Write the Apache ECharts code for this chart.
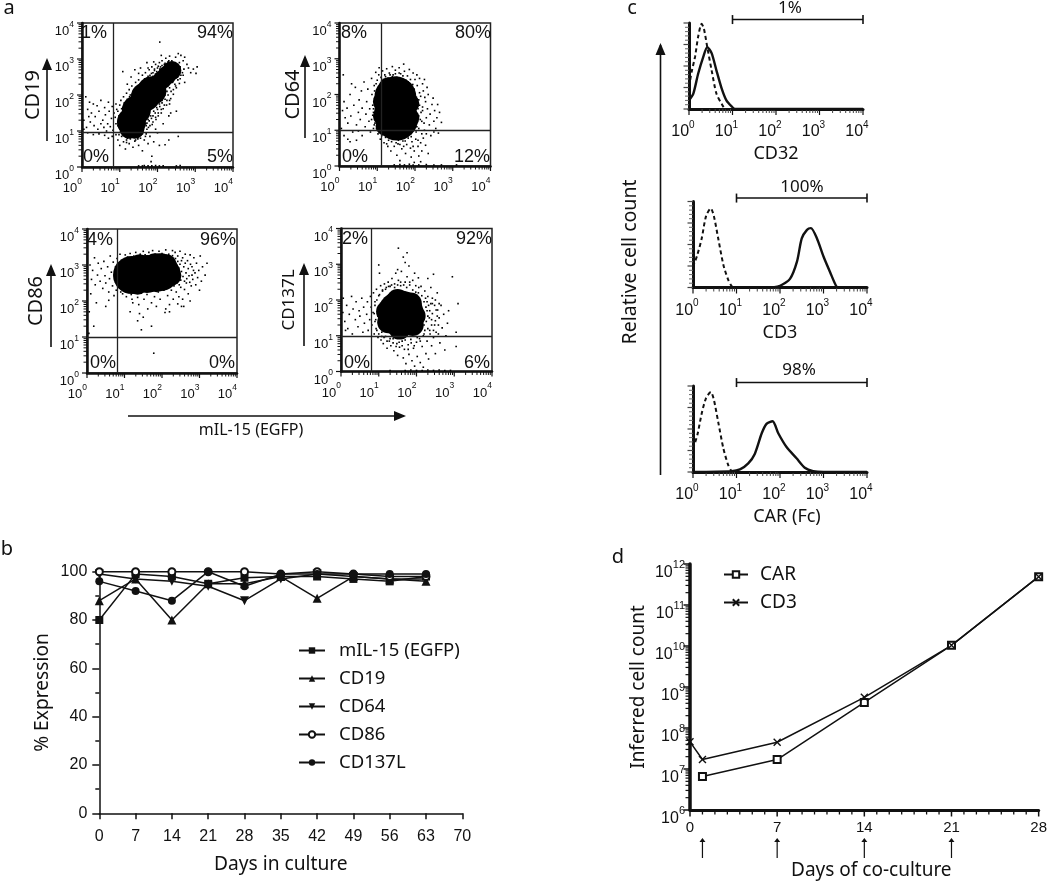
<!DOCTYPE html>
<html><head><meta charset="utf-8">
<style>html,body{margin:0;padding:0;background:#fff}#c{width:1050px;height:881px}</style>
<script src="https://cdn.jsdelivr.net/npm/echarts@6/dist/echarts.min.js"></script></head>
<body><div id="c"></div>
<script>
// ---------- values ----------
// axis tick positions
const logDecades=[1,10,100,1000,10000];
const logMinor=[2,3,4,5,6,7,8,9,20,30,40,50,60,70,80,90,200,300,400,500,600,700,800,900,2000,3000,4000,5000,6000,7000,8000,9000];
const countDecades=[1e6,1e7,1e8,1e9,1e10,1e11,1e12];
const countMinor=[2e6,3e6,4e6,5e6,6e6,7e6,8e6,9e6,2e7,3e7,4e7,5e7,6e7,7e7,8e7,9e7,2e8,3e8,4e8,5e8,6e8,7e8,8e8,9e8,2e9,3e9,4e9,5e9,6e9,7e9,8e9,9e9,2e10,3e10,4e10,5e10,6e10,7e10,8e10,9e10,2e11,3e11,4e11,5e11,6e11,7e11,8e11,9e11];
const coDayMajor=[0,7,14,21,28];
const coDayMinor=[1,2,3,4,5,6,8,9,10,11,12,13,15,16,17,18,19,20,22,23,24,25,26,27];
const histMajor=[0,25,50,75,100];
const histMinor=[5,10,15,20,30,35,40,45,55,60,65,70,80,85,90,95];
// flow panels: log10 readings, flat x,y pairs
const cd19Core=[1.31,1.25,1.44,1.58,1.68,1.95,1.85,2.12];
const cd19Mid=[1.25,1.05,1.4,1.05,1.98,2.28,2.12,2.42,2.25,2.55,2.38,2.68];
const cd19Dots=[.1,1.95,.2,1.8,.15,1.6,.3,1.75,.25,1.5,.4,1.7,.35,1.4,.5,1.85,.45,1.55,.55,1.3,.6,1.65,.62,1.45,.7,1.8,.68,1.2,.72,1.55,.78,1.35,.8,1.68,.85,1.5,.05,1.3,.12,1.1,.22,1.25,.32,1.15,.42,1.05,.5,1.2,.58,1.1,.65,1,.75,1.12,.82,1.02,.9,1.2,.88,1.38,.92,1.6,.15,.95,.3,.9,.45,.92,.6,.88,.7,.8,.8,.85,.9,.9,.05,1.05,.18,1.4,
.95,.75,1,.6,1.05,.85,1.1,.7,1.15,.5,1.2,.8,1.25,.65,1.3,.88,1.35,.55,1.4,.72,1.45,.9,1.5,.6,1.55,.8,1.6,.45,1.65,.75,1.7,.92,1.75,.65,1.8,.85,1.9,.7,2,.95,2.05,.6,2.3,.75,2.55,.85,1.85,.3,1.83,.15,.98,.9,1.08,.92,1.18,.68,1.28,.95,1.38,.82,1.48,.78,1.58,.98,1.68,.85,
.9,1.75,.95,1.55,1,1.72,1.03,1.85,1.05,1.62,1.1,1.95,1.12,1.78,1.18,2.05,1.2,1.88,1.25,2.15,1.28,2,1.32,2.25,1.36,2.1,1.42,2.35,1.46,2.2,1.5,2.42,1.55,2.3,1.6,2.55,1.62,2.38,1.68,2.62,1.72,2.45,1.78,2.7,1.8,2.55,1.85,2.78,1.88,2.62,1.92,2.68,1.95,2.85,2,2.75,2.05,2.9,2.08,2.78,2.12,2.95,2.18,2.85,2.22,3.02,2.28,2.92,2.32,3.08,2.38,2.95,2.42,2.82,2.48,3.05,2.55,3.15,2.58,2.9,2.62,3.1,2.68,2.95,2.72,3.05,2.78,2.85,2.82,2.75,2.88,2.62,2.95,2.72,3.02,2.6,3.05,2.78,
2.6,2.78,2.55,2.6,2.5,2.72,2.45,2.5,2.42,2.65,2.4,2.35,2.38,2.8,2.35,2.55,2.32,2.2,2.3,2.7,2.28,2.45,2.25,2.1,2.6,2.45,2.68,2.55,2.72,2.35,2.48,2.25,2.42,2.02,2.35,1.9,2.32,1.75,2.25,1.85,2.2,2,2.18,1.72,2.12,1.85,2.1,1.6,2.05,1.75,2.02,1.5,1.98,1.65,1.95,1.38,1.9,1.55,1.88,1.25,1.82,1.42,1.8,1.15,1.75,1.32,1.72,1.05,1.68,1.2,2.3,1.42,2.15,1.2,1.95,1.05,2.2,.62,2.5,1.55,2.35,1.5,
2.06,3.47,1.08,2.65,1.3,2.5,1.4,2.7,1.55,2.75,1.72,2.9,1.2,2.3,1.5,2.6,1.75,2.75,1.9,2.92,2.1,3.1,
1.5,.03,1.6,.03,1.65,.04,1.75,.03,1.85,.03,1.95,.04,2.05,.03,2.15,.03,2.5,.03,2.6,.04];
const cd19Rim=[.98,1.3,1,1.1,.95,1.15,1.02,1.42,1.05,1.5,.98,1.42,1.02,.98,1.08,1.65,1.12,1.6,1.15,1.72,1.18,1.82,1.22,1.78,1.26,1.95,1.3,1.9,1.33,2.02,1.38,2.05,1.42,2.18,1.45,2.12,1.5,2.25,1.54,2.18,1.58,2.35,1.62,2.3,1.66,2.45,1.7,2.4,1.75,2.52,1.8,2.48,1.84,2.6,1.88,2.52,1.92,2.72,1.98,2.65,2.02,2.8,2.06,2.72,2.12,2.82,2.16,2.75,2.2,2.88,2.26,2.8,2.3,2.95,2.36,2.88,2.42,2.9,
1.52,.95,1.58,1.02,1.62,1.08,1.6,.92,1.7,1.15,1.72,1.22,1.78,1.28,1.76,1.1,1.84,1.35,1.88,1.42,1.86,1.18,1.94,1.5,1.96,1.32,2,1.6,2.02,1.42,2.06,1.68,2.1,1.5,2.12,1.78,2.15,1.62,2.2,1.88,2.24,1.72,2.28,2,2.32,1.85,2.36,2.1,2.42,2.15,2.46,2.3,2.5,2.2,2.54,2.42,2.58,2.32,2.62,2.55,2.66,2.62,2.7,2.72,2.56,2.65,2.5,2.48,2.45,2.75,
1.1,.88,1.15,.95,1.22,.82,1.28,.78,1.35,.85,1.42,.75,1.48,.85,1.55,.9,1.18,.75];
const cd64Core=[1.48,1.92,1.48,1.55,1.52,1.3];
const cd64Mid=[1.15,1.8,1.15,1.4,1.22,1.12,1.85,1.75,1.85,1.35,1.72,1.12,1.3,2.2,1.7,2.12];
const cd64Dots=[.08,1.55,.15,1.35,.12,1.8,.22,1.2,.2,1.62,.28,2,.3,1.4,.35,.95,.38,1.7,.42,2.2,.45,1.15,.5,1.5,.52,1.85,.55,1.3,.6,.85,.6,1.62,.65,2.35,.68,1.1,.7,1.45,.72,1.8,.75,2.15,.78,1.25,.8,1.6,.82,.95,.85,2.45,.86,2,.05,1.05,.12,.85,.22,.75,.28,.68,.5,.98,.45,.72,.32,2.3,.1,2.55,.58,2.1,
.85,1.3,.88,1.7,.9,1.5,.92,1.15,.92,2.25,.95,1.9,.96,2.62,.98,1.05,1,2.4,1.02,.9,1.04,2.55,1.05,2.75,1.08,.75,1.1,2.48,1.12,.85,1.14,2.66,1.18,.65,1.2,2.55,1.22,.8,1.25,2.72,1.28,.55,1.3,.72,1.32,2.6,1.36,.42,1.38,.68,1.4,2.78,1.42,2.55,1.45,.55,1.48,2.68,1.5,.78,1.52,.3,1.55,.62,1.58,2.75,1.62,2.58,1.65,.48,1.68,.7,1.7,2.85,1.72,2.65,1.75,.35,1.78,.6,1.8,2.52,1.82,.78,1.85,2.7,1.88,.5,1.9,.25,1.92,.68,1.95,2.6,1.98,.42,2,2.42,2.02,.75,2.05,2.55,2.08,.55,2.1,.28,2.12,2.45,2.15,.65,2.18,.42,2.2,2.3,2.22,.78,2.25,2.42,2.28,.58,2.3,.9,2.32,2.2,2.35,.35,
2.05,1.1,2.1,1.4,2.12,1.7,2.15,1.95,2.18,1.25,2.2,1.55,2.22,2.1,2.25,1,2.28,1.8,2.3,1.35,2.33,1.6,2.35,2,2.38,1.15,2.4,1.45,2.42,.85,2.45,1.72,2.48,1.9,2.5,1.25,2.52,1.55,2.55,1.05,2.58,1.35,2.6,1.72,2.62,.92,2.65,1.5,2.7,1.22,2.5,.95,2.15,.12,1.6,.15,1.98,.1,
1.45,.03,1.6,.04,1.72,.03,1.85,.05,1.95,.03,2.1,.03,2.3,.04,2.5,.03,2.7,.03,3.1,.03];
const cd64Rim=[.98,1.5,1,1.75,1,1.25,1.03,2,1.04,1.4,1.06,1.1,1.07,2.2,1.08,1.6,1.1,.98,1.12,2.32,1.14,1.05,1.16,2.42,1.18,.9,1.22,2.5,1.24,.95,1.28,2.45,1.3,.85,1.34,2.55,1.36,.8,1.4,2.5,1.42,.92,1.44,.75,1.48,2.58,1.5,.88,1.52,2.48,1.56,.72,1.58,2.6,1.6,.85,1.62,2.45,1.66,.78,1.68,2.52,1.7,.92,1.74,.7,1.76,2.4,1.8,.88,1.82,2.35,1.86,.98,1.88,2.42,1.9,.82,1.94,2.28,1.96,1.05,1.98,2.15,2,1.95,2,1.2,2.02,1.78,2.03,.95,2.04,1.45,2.06,2.25,2.08,1.6,2.1,1.05,2.1,1.85,2.12,2.05,2.14,1.3,2.16,1.5,2.18,.9,.96,1.9,.94,1.2,.9,1.6,.93,2.1,.97,2.3,.88,1.42,.9,1.05,1.5,.65,1.6,.6,1.25,.62,1.7,.55,1.95,.55,2.08,.72,2.2,1.65,2.24,1.2,2.26,1.92];
const cd86Core=[1.2,2.72,1.6,2.75,1.95,2.8];
const cd86Mid=[.98,2.68,1,2.85,2.22,2.82,2.25,2.7,1.35,2.45,1.85,2.52,1.4,3.02,1.8,3.05,2.12,3.02];
const cd86Dots=[.08,3,.12,2.6,.15,2.85,.2,3.2,.22,2.45,.28,2.72,.3,3.05,.35,2.55,.38,2.9,.42,2.35,.45,3.1,.48,2.7,.5,2.5,.55,2.95,.58,2.25,.6,2.62,.62,3.25,.65,2.8,.68,2.42,.7,3.08,.72,2.15,.74,2.58,.76,2.95,.78,2.3,.8,3.18,.82,2.72,.84,2.48,.86,2.88,.88,3.3,.9,2.25,.92,3.05,.94,2.4,.1,2.2,.06,1.7,.25,1.95,.5,1.85,.58,2.02,
.95,2.2,.98,3.15,1,2.35,1.02,3.28,1.05,2.12,1.08,3.22,1.1,2.28,1.15,3.32,1.18,2.18,1.2,2.05,1.25,3.25,1.28,2.25,1.3,3.35,1.35,2.1,1.38,1.9,1.42,3.3,1.45,2.22,1.5,3.38,1.52,2.05,1.55,3.28,1.6,2.18,1.62,1.78,1.65,3.35,1.7,2.28,1.72,1.95,1.75,3.4,1.8,2.12,1.82,3.3,1.85,1.85,1.9,2.25,1.92,3.38,1.95,2.05,2,3.32,2.05,2.3,2.08,1.68,2.1,3.42,2.15,2.15,2.18,3.3,2.2,1.9,2.25,2.3,2.28,3.4,2.3,2.05,2.35,3.35,2.38,2.25,2.42,3.25,2.45,2.12,2.48,3.38,2.5,2.38,2.55,3.2,2.58,1.85,2.6,2.32,2.62,3.3,2.65,2.5,2.68,3.12,2.7,2.2,2.72,2.7,2.75,3.28,2.78,2.42,2.8,2.95,2.82,2.6,2.85,3.2,2.88,2.78,2.9,2.45,2.92,3.05,2.95,2.65,2.98,2.85,3.02,3.25,3.05,2.55,3.08,2.95,3.15,2.72,3.2,3.05,3,2.3,2.75,2,2.55,2.05,2.42,1.92,
1.35,1.45,1.5,1.55,1.45,1.2,1.72,1.3,2.2,1.7,2.1,1.78,2.52,1.85,1.78,.55,1.4,1.65,1.15,1.7,.05,1.1,.18,1.3,1.22,1.95];
const cd86Rim=[.88,2.75,.9,2.55,.92,2.95,.94,2.62,.96,2.42,.98,3.02,1,2.52,1.02,3.1,1.05,2.38,1.08,3.12,1.1,2.45,1.14,3.18,1.16,2.32,1.2,3.15,1.22,2.38,1.26,3.2,1.3,2.42,1.34,3.2,1.36,2.28,1.4,3.18,1.44,2.35,1.48,3.22,1.52,2.28,1.56,3.2,1.6,2.38,1.64,3.24,1.68,2.32,1.72,3.22,1.76,2.36,1.8,3.25,1.84,2.3,1.88,3.2,1.92,2.4,1.96,3.24,2,2.38,2.04,3.22,2.08,2.45,2.12,3.25,2.16,2.38,2.2,3.2,2.24,2.48,2.28,3.26,2.32,2.42,2.36,3.18,2.4,2.5,2.42,3.1,2.46,2.45,2.48,3.02,2.5,2.58,2.52,3.12,2.56,2.68,2.58,2.95,2.6,2.55,2.62,3.05,2.64,2.78,2.66,2.62,2.7,2.9,2.74,2.52,2.76,3.02,2.8,2.72,2.84,2.85,2.52,2.82,2.44,2.92,2.48,2.7];
const cd137Core=[1.58,1.62];
const cd137Mid=[1.22,1.68,1.25,1.38,1.95,1.55,1.9,1.3,1.5,2,1.55,1.2,1.85,1.9];
const cd137Dots=[.06,2.05,.1,1.4,.15,1.85,.18,1.2,.22,1.6,.28,2.1,.3,1.05,.32,1.75,.38,1.45,.4,1.95,.45,1.25,.48,1.7,.5,1.55,.55,2.05,.58,1.1,.6,1.8,.62,1.35,.68,1.6,.7,1.95,.72,1.15,.76,1.45,.78,2.1,.05,1.65,.12,1.15,
.8,1.8,.82,1.3,.85,1.65,.86,2.2,.88,1.05,.9,1.95,.92,1.45,.94,2.3,.95,1.15,.98,.95,1,2.12,1.02,1.25,1.05,2.4,1.06,.88,1.08,1.1,1.1,2.25,1.12,.78,1.15,2.45,1.18,.98,1.2,2.35,1.22,.65,1.25,2.5,1.28,.85,1.3,2.38,1.32,.72,1.35,2.6,1.38,.92,1.4,.58,1.42,2.45,1.45,2.75,1.48,.78,1.5,.45,1.52,2.55,1.55,.68,1.58,2.4,1.6,2.8,1.62,.85,1.65,.38,1.68,.62,1.7,2.5,1.72,.22,1.75,2.65,1.78,.75,1.8,.48,1.82,2.42,1.85,.9,1.88,.3,1.9,2.55,1.92,.65,1.95,.15,1.98,2.4,2,.82,2.02,.42,2.05,2.2,2.08,.92,2.1,.25,2.12,2.38,2.15,.7,2.18,.12,2.2,1.05,2.22,2.25,2.25,.5,2.28,.85,2.3,2.1,2.32,.35,2.35,1.15,2.38,2.35,2.4,.72,2.42,1.9,2.45,.95,2.48,1.3,2.5,.5,2.52,1.72,2.55,2.2,2.58,1.05,2.6,1.5,2.62,.8,2.65,1.85,2.68,1.22,2.72,1.6,2.75,.6,2.78,1,2.82,1.35,2.85,1.7,2.3,1.55,2.25,1.8,2.2,1.3,2.28,1.95,2.35,1.7,2.4,1.45,2.42,2.05,2.5,2,2.55,1.55,
1.52,3.45,1.75,3.32,1,2.98,1.65,3.2,1.5,2.85,1.8,2.95,1.95,2.75,1.7,3.05,2.05,2.62,2.3,2.6,2.45,2.72,2.95,2.65,3.1,1.9,3.05,1.1,3.05,.7,1.02,2.75,
1.7,.03,1.85,.04,2,.03,2.15,.03,2.3,.04,2.45,.03,2.6,.04,2.75,.03,2.9,.03,1.3,.03];
const cd137Rim=[.88,1.62,.9,1.4,.9,1.85,.93,1.2,.95,2,.98,1.55,1,1.05,1.02,2.15,1.03,1.75,1.08,.98,1.1,2.28,1.14,.95,1.18,2.3,1.22,.85,1.26,2.38,1.3,.92,1.34,2.42,1.38,.8,1.42,2.35,1.46,.7,1.5,2.42,1.54,.82,1.58,2.5,1.62,.72,1.66,2.42,1.7,.88,1.74,2.35,1.78,.62,1.82,2.5,1.86,.8,1.9,2.28,1.94,.72,1.98,2.22,2.02,.95,2.06,2.35,2.1,.85,2.14,2.12,2.18,1,2.2,1.95,2.22,1.15,2.24,2.05,2.26,1.4,2.28,1.7,2.3,1.2,2.32,1.85,2.34,1.5,2.36,1.05,2.38,1.9,2.4,1.3,2.42,1.62,2.45,1.15,2.48,1.85,2.5,1.42,2.52,1.1,2.56,1.72,2.58,1.3,2.6,1.9];
// histograms: [log10 intensity, relative count]
const cd32Iso=[[0,26],[.06,43],[.14,61],[.21,84],[.29,99],[.34,94],[.42,72],[.52,45],[.63,18],[.75,6],[.85,0],[4,0]];
const cd32Stain=[[0,10],[.1,18],[.21,41],[.33,61],[.42,72],[.52,65],[.63,45],[.75,24],[.86,10],[.98,3],[1.06,0],[4,0]];
const cd3Iso=[[0,24],[.1,38],[.2,57],[.3,83],[.41,92],[.48,83],[.58,57],[.7,26],[.81,9],[.9,1],[1,0],[4,0]];
const cd3Stain=[[0,0],[1.69,0],[2,2],[2.23,10],[2.39,30],[2.5,57],[2.62,67],[2.71,69],[2.85,57],[3,36],[3.15,18],[3.3,1],[3.38,0],[4,0]];
const carIso=[[0,27],[.1,43],[.2,68],[.3,86],[.41,93],[.48,84],[.58,58],[.7,27],[.81,8],[.89,1],[1,0],[4,0]];
const carStain=[[0,0],[.89,1],[1.08,3],[1.27,10],[1.42,21],[1.58,45],[1.69,56],[1.83,59],[1.96,45],[2.15,29],[2.38,16],[2.57,5],[2.76,1],[3,0],[4,0]];
// panel b
const cultureDays=[0,7,14,21,28,35,42,49,56,63];
const mil15=[80,99,98,95,97.5,98,98,97,96,98];
const cd19Pct=[88,97,80,95,95,98,89,98,97,96];
const cd64Pct=[99,97,96,94,88,97,99,98,97,97];
const cd86Pct=[100,100,100,100,100,99,100,99,98,98];
const cd137Pct=[96,92,88,100,94,99,99,99,99,99];
// panel d
const carCounts=[[1,6.6e6],[7,1.7e7],[14,4.2e8],[21,1.04e10],[28,4.9e11]];
const cd3Counts=[[0,4.6e7],[1,1.7e7],[7,4.5e7],[14,5.6e8],[21,1.04e10],[28,4.9e11]];
const stimDays=[1,7,14,21];

// ---------- chart ----------
const SANS='"Liberation Sans"',NOTO='"Noto Sans"';
const pairs=a=>{const o=[];for(let i=0;i<a.length;i+=2)o.push([10**a[i],10**a[i+1]]);return o;};
const pow=(s1,s2,lh)=>({formatter:v=>'{b|10}{s|'+Math.round(Math.log10(v))+'}',rich:{
  b:{fontSize:s1,fontFamily:SANS,color:'#111',verticalAlign:'bottom',lineHeight:lh},
  s:{fontSize:s2,fontFamily:SANS,color:'#111',verticalAlign:'top',lineHeight:s2}}});
const grid=[],xAxis=[],yAxis=[],series=[];let gfx=[];
// tick marks placed through the axes' own scales
function ticks(xi,yi,side,cross,values,len,w,color){
  const data=values.map(v=>side==='x'?[v,cross]:[cross,v]);
  series.push({type:'scatter',xAxisIndex:xi,yAxisIndex:yi,data,symbol:'rect',clip:false,silent:true,animation:false,
    symbolSize:side==='x'?[w,len]:[len,w],symbolOffset:side==='x'?[0,len/2]:[-len/2,0],itemStyle:{color:color||'#111',opacity:1}});
}
function logAxis(gi,pos,o){
  const horiz=pos==='bottom';
  return {gridIndex:gi,type:'log',logBase:10,min:o.min,max:o.max,position:pos,splitLine:{show:false},
    axisLine:{onZero:false,lineStyle:{color:'#111',width:o.width||2.5}},
    axisTick:{show:false},
    axisLabel:Object.assign({margin:o.margin,align:o.align||'right',padding:o.pad||0},pow(o.s1||13,o.s2||8.5,o.lh||18)),
    name:o.name,nameLocation:'middle',nameGap:o.gap,nameRotate:horiz?0:90,nameTextStyle:Object.assign({fontFamily:NOTO,fontSize:o.nameSize||19,color:'#111'},o.nameExtra||{})};
}
function flowPanel(p){
  const gi=grid.length;
  grid.push({left:p.l,top:p.t,width:p.w,height:p.h,show:true,borderColor:'#222',borderWidth:1.5,backgroundColor:'transparent'});
  const xi=xAxis.length,yi=yAxis.length;
  xAxis.push(logAxis(gi,'bottom',{min:1,max:1e4,margin:10,lh:18}));
  yAxis.push(logAxis(gi,'left',{min:1,max:1e4,margin:8,pad:[12,0,0,0],name:p.name,gap:p.gap,nameSize:p.nameSize||20}));
  const sc=(d,size,sym)=>series.push({type:'scatter',xAxisIndex:xi,yAxisIndex:yi,data:pairs(d),symbol:sym,symbolSize:size,itemStyle:{color:'#000',opacity:1},silent:true,animation:false,clip:true});
  sc(p.dots.concat(p.rim),1.6,'rect');sc(p.core,p.coreSize,'circle');sc(p.mid,p.midSize,'circle');
  ticks(xi,yi,'x',1,logDecades,5,1.2);ticks(xi,yi,'x',1,logMinor,3.5,1);
  ticks(xi,yi,'y',1,logDecades,5,1.2);ticks(xi,yi,'y',1,logMinor,3.5,1);
  series.push({type:'line',xAxisIndex:xi,yAxisIndex:yi,data:[],silent:true,animation:false,
    markLine:{silent:true,symbol:'none',label:{show:false},lineStyle:{color:'#222',width:1.3,type:'solid'},animation:false,
      data:[{xAxis:p.gx},{yAxis:p.gy}]}});
  p.labels.forEach(t=>gfx.push({type:'text',x:t[1],y:t[2],z:20,style:{text:t[0],fontFamily:SANS,fontSize:18,fill:'#111',align:'center',verticalAlign:'middle'}}));
  arrow(p.ax,p.ay1,p.ax,p.ay2);
}
function arrow(x1,y1,x2,y2){
  gfx.push({type:'line',z:20,shape:{x1,y1,x2,y2},style:{stroke:'#111',lineWidth:1.6}});
  if(x1===x2){const d=y2<y1?1:-1;gfx.push({type:'polygon',z:20,shape:{points:[[x2,y2-2*d],[x2-5,y2+10*d],[x2+5,y2+10*d]]},style:{fill:'#111'}});}
  else gfx.push({type:'polygon',z:20,shape:{points:[[x2+2,y2],[x2-10,y2-5],[x2-10,y2+5]]},style:{fill:'#111'}});
}
flowPanel({l:82,t:23,w:151,h:144,name:'CD19',gap:39,core:cd19Core,coreSize:29,mid:cd19Mid,midSize:19,dots:cd19Dots,rim:cd19Rim,gx:6.6,gy:9.3,ax:47,ay1:141,ay2:60,
  labels:[['1%',94,33],['94%',215,33],['0%',96,157],['5%',220,157]]});
flowPanel({l:339.5,t:23,w:151,h:143,name:'CD64',gap:36,core:cd64Core,coreSize:42,mid:cd64Mid,midSize:20,dots:cd64Dots,rim:cd64Rim,gx:12.4,gy:10,ax:305,ay1:138,ay2:57,
  labels:[['8%',354,33],['80%',473,33],['0%',355,157],['12%',472,157]]});
flowPanel({l:87,t:229,w:150,h:144,name:'CD86',gap:41,core:cd86Core,coreSize:38,mid:cd86Mid,midSize:20,dots:cd86Dots,rim:cd86Rim,gx:6.4,gy:9.8,ax:51,ay1:347,ay2:266,
  labels:[['4%',100,240],['96%',218,240],['0%',103,363],['0%',222,363]]});
flowPanel({l:341,t:228.5,w:151,h:143,name:'CD137L',gap:43,nameSize:17,core:cd137Core,coreSize:46,mid:cd137Mid,midSize:22,dots:cd137Dots,rim:cd137Rim,gx:6.3,gy:9.5,ax:304,ay1:346,ay2:265,
  labels:[['2%',355,239],['92%',474,239],['0%',357,363],['6%',477,363]]});
arrow(128,416,404,416);
gfx.push({type:'text',x:251,y:430,z:20,style:{text:'mIL-15 (EGFP)',fontFamily:NOTO,fontSize:16,fill:'#111',align:'center',verticalAlign:'middle'}});

function histPanel(p){
  const gi=grid.length;
  grid.push({left:p.l,top:p.t,width:174,height:86});
  const xi=xAxis.length,yi=yAxis.length;
  xAxis.push(logAxis(gi,'bottom',{min:1,max:1e4,margin:11,lh:20,s1:16,s2:10,width:3,align:'center',pad:[0,12,0,0],name:p.name,gap:36,nameSize:18,nameExtra:p.nameExtra}));
  yAxis.push({gridIndex:gi,type:'value',min:0,max:100,interval:25,position:'left',splitLine:{show:false},axisLabel:{show:false},
    axisLine:{onZero:false,lineStyle:{color:'#111',width:3}},axisTick:{show:false}});
  const toXY=d=>d.map(q=>[10**q[0],q[1]]);
  series.push({type:'line',xAxisIndex:xi,yAxisIndex:yi,data:toXY(p.iso),showSymbol:false,smooth:.25,animation:false,silent:true,lineStyle:{color:'#111',width:2,type:[4,3]}});
  series.push({type:'line',xAxisIndex:xi,yAxisIndex:yi,data:toXY(p.stain),showSymbol:false,smooth:.25,animation:false,silent:true,lineStyle:{color:'#111',width:2.4}});
  series.push({type:'line',xAxisIndex:xi,yAxisIndex:yi,data:[[10,104],[1e4,104]],clip:false,symbol:'rect',symbolSize:[1.6,9],animation:false,silent:true,itemStyle:{color:'#111'},lineStyle:{color:'#111',width:1.5}});
  ticks(xi,yi,'x',0,logDecades,6,1.2);ticks(xi,yi,'x',0,logMinor,4,1,'#444');
  ticks(xi,yi,'y',1,histMajor,5.5,1.2,'#444');ticks(xi,yi,'y',1,histMinor,4,1,'#666');
  gfx.push({type:'text',x:p.px,y:p.py,z:20,style:{text:p.pct,fontFamily:NOTO,fontSize:17,fill:'#111',align:'center',verticalAlign:'middle'}});
}
histPanel({l:689,t:23,name:'CD32',iso:cd32Iso,stain:cd32Stain,pct:'1%',px:790,py:8});
histPanel({l:693,t:201.5,name:'CD3',iso:cd3Iso,stain:cd3Stain,pct:'100%',px:802,py:187});
histPanel({l:693,t:386,name:'CAR (Fc)',iso:carIso,stain:carStain,pct:'98%',px:799,py:370,nameExtra:{padding:[0,0,0,14]}});
arrow(660.5,475,660.5,45);
gfx.push({type:'text',x:630,y:262,z:20,rotation:Math.PI/2,style:{text:'Relative cell count',fontFamily:NOTO,fontSize:19.5,fill:'#111',align:'center',verticalAlign:'middle'}});

// panel b
const gb=grid.length;
grid.push({left:99.3,top:571.7,width:363,height:241.6});
xAxis.push({gridIndex:gb,type:'value',min:0,max:70,interval:7,splitLine:{show:false},axisLine:{onZero:false,lineStyle:{color:'#111',width:1.5}},axisTick:{length:6,lineStyle:{color:'#111',width:1.5}},
  axisLabel:{margin:15,fontFamily:SANS,fontSize:16,color:'#111'},name:'Days in culture',nameLocation:'middle',nameGap:42,nameTextStyle:{fontFamily:NOTO,fontSize:19.2,color:'#111'}});
yAxis.push({gridIndex:gb,type:'value',min:0,max:100,interval:20,splitLine:{show:false},axisLine:{onZero:false,lineStyle:{color:'#111',width:1.5}},axisTick:{length:7,lineStyle:{color:'#111',width:1.5}},minorTick:{show:true,splitNumber:2,length:4,lineStyle:{color:'#111',width:1.5}},
  axisLabel:{margin:12,fontFamily:SANS,fontSize:16,color:'#111'},name:'% Expression',nameLocation:'middle',nameGap:47,nameTextStyle:{fontFamily:NOTO,fontSize:19.2,color:'#111'}});
const bxi=xAxis.length-1,byi=yAxis.length-1;
const TRI='path://M5,0L10,10L0,10Z',ITRI='path://M0,0L10,0L5,10Z';
[['mIL-15 (EGFP)',mil15,'rect',8],['CD19',cd19Pct,TRI,9],['CD64',cd64Pct,ITRI,9],['CD86',cd86Pct,'emptyCircle',7],['CD137L',cd137Pct,'circle',8]].forEach(s=>{
  series.push({name:s[0],type:'line',xAxisIndex:bxi,yAxisIndex:byi,data:cultureDays.map((d,i)=>[d,s[1][i]]),symbol:s[2],symbolSize:s[3],clip:false,animation:false,silent:true,
    lineStyle:{color:'#111',width:1.5},itemStyle:{color:'#111',borderColor:'#111',borderWidth:s[2]==='emptyCircle'?1.5:0}});
});

// panel d
const gd=grid.length;
grid.push({left:690,top:564,width:351.3,height:246});
const dxi=xAxis.length,dyi=yAxis.length;
xAxis.push({gridIndex:gd,type:'value',min:0,max:28,interval:7,splitLine:{show:false},axisLine:{onZero:false,lineStyle:{color:'#111',width:3}},axisTick:{show:false},
  axisLabel:{margin:10,fontFamily:SANS,fontSize:15,color:'#111'},name:'Days of co-culture',nameLocation:'middle',nameGap:51,nameTextStyle:{fontFamily:NOTO,fontSize:19,color:'#111',padding:[0,0,0,14]}});
yAxis.push(logAxis(gd,'left',{min:1e6,max:1e12,margin:5,pad:[12,0,0,0],s1:16,s2:11,lh:22,width:3.5,name:'Inferred cell count',gap:42,nameSize:19}));
ticks(dxi,dyi,'x',1e6,coDayMajor,6.5,1.5);ticks(dxi,dyi,'x',1e6,coDayMinor,4.5,1.3);
ticks(dxi,dyi,'y',0,countDecades,6.5,1.5);ticks(dxi,dyi,'y',0,countMinor,4.5,1.2);
const mk=(name,data,sym,size,bw)=>series.push({name,type:'line',xAxisIndex:dxi,yAxisIndex:dyi,data,symbol:sym,symbolSize:size,clip:false,animation:false,silent:true,
  lineStyle:{color:'#111',width:1.5},itemStyle:{color:'#111',borderColor:'#111',borderWidth:bw}});
mk('CAR',carCounts,'emptyRect',7,1.5);
mk('CD3',cd3Counts,'path://M0,0L10,10M10,0L0,10',7,1.4);
series.push({type:'scatter',xAxisIndex:dxi,yAxisIndex:dyi,data:stimDays.map(d=>[d,1e6]),clip:false,animation:false,silent:true,symbol:'path://M5,0L10,8L6,8L6,40L4,40L4,8L0,8Z',symbolKeepAspect:false,symbolSize:[6,20],symbolOffset:[0,38],itemStyle:{color:'#111',opacity:1}});

[['a',9,8],['b',7,549],['c',632,8],['d',618,557]].forEach(t=>gfx.push({type:'text',x:t[1],y:t[2],z:20,style:{text:t[0],fontFamily:NOTO,fontSize:20,fill:'#111',align:'center',verticalAlign:'middle'}}));

const chart=echarts.init(document.getElementById('c'),null,{renderer:'canvas'});
chart.setOption({animation:false,backgroundColor:'#fff',grid,xAxis,yAxis,series,graphic:gfx,
  legend:[
   {data:['mIL-15 (EGFP)','CD19','CD64','CD86','CD137L'],orient:'vertical',left:293,top:636,itemWidth:26,itemHeight:8,itemGap:9,selectedMode:false,textStyle:{fontFamily:NOTO,fontSize:18.5,color:'#111',padding:[0,0,0,9]}},
   {data:['CAR','CD3'],orient:'vertical',left:718,top:560,itemWidth:24,itemHeight:8,itemGap:9,selectedMode:false,textStyle:{fontFamily:NOTO,fontSize:19,color:'#111',padding:[0,0,0,7]}}
  ]});
</script></body></html>
